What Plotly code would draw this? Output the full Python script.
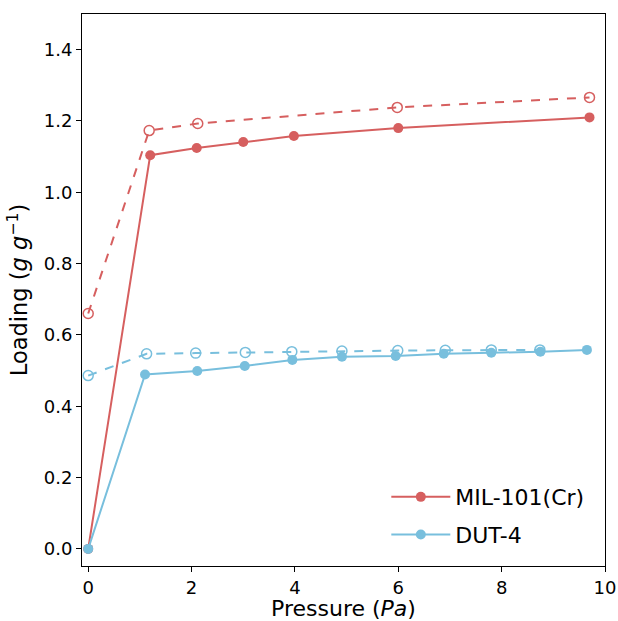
import plotly.graph_objects as go

# MIL-101(Cr)
mil_ads_x = [0.0, 1.2, 2.1, 3.0, 3.98, 6.0, 9.7]
mil_ads_y = [0.0, 1.104, 1.124, 1.141, 1.158, 1.180, 1.210]
mil_des_x = [0.0, 1.18, 2.12, 5.98, 9.7]
mil_des_y = [0.66, 1.173, 1.193, 1.238, 1.266]

# DUT-4
dut_ads_x = [0.0, 1.1, 2.11, 3.03, 3.95, 4.91, 5.95, 6.88, 7.8, 8.75, 9.65]
dut_ads_y = [0.0, 0.489, 0.499, 0.513, 0.530, 0.539, 0.541, 0.547, 0.550, 0.553, 0.558]
dut_des_x = [0.0, 1.13, 2.08, 3.04, 3.94, 4.91, 5.99, 6.91, 7.8, 8.74]
dut_des_y = [0.486, 0.547, 0.549, 0.551, 0.553, 0.555, 0.556, 0.557, 0.558, 0.558]

x_ticks = [0, 2, 4, 6, 8, 10]
y_ticks = [0.0, 0.2, 0.4, 0.6, 0.8, 1.0, 1.2, 1.4]

RED = "#d65f5f"
BLUE = "#78bfdd"

fig = go.Figure()
fig.add_trace(go.Scatter(x=mil_des_x, y=mil_des_y, mode="lines+markers",
                         line=dict(color=RED, width=2, dash="dash"),
                         marker=dict(symbol="circle-open", size=10, color=RED, line=dict(width=1.5)),
                         showlegend=False))
fig.add_trace(go.Scatter(x=dut_des_x, y=dut_des_y, mode="lines+markers",
                         line=dict(color=BLUE, width=2, dash="dash"),
                         marker=dict(symbol="circle-open", size=10, color=BLUE, line=dict(width=1.5)),
                         showlegend=False))
fig.add_trace(go.Scatter(x=mil_ads_x, y=mil_ads_y, mode="lines+markers", name="MIL-101(Cr)",
                         legendgroup="a",
                         line=dict(color=RED, width=2),
                         marker=dict(symbol="circle", size=10, color=RED)))
fig.add_trace(go.Scatter(x=dut_ads_x, y=dut_ads_y, mode="lines+markers", name="DUT-4",
                         legendgroup="b",
                         line=dict(color=BLUE, width=2),
                         marker=dict(symbol="circle", size=10, color=BLUE)))

axis_common = dict(showline=True, linecolor="black", linewidth=1, mirror=True,
                   ticks="outside", ticklen=5, tickcolor="black", showgrid=False,
                   zeroline=False, automargin=False,
                   tickfont=dict(size=18, color="black"))

fig.update_layout(
    width=618, height=621,
    margin=dict(l=82, r=13, t=14, b=55),
    paper_bgcolor="white", plot_bgcolor="white",
    font=dict(family="DejaVu Sans", color="black"),
    xaxis=dict(range=[-0.12, 10], tickvals=x_ticks,
               title=dict(text="Pressure (<i>Pa</i>)", font=dict(size=22), standoff=4),
               **axis_common),
    yaxis=dict(range=[-0.048, 1.5], tickvals=y_ticks, tickformat=".1f",
               title=dict(text="Loading (<i>g g</i><sup>−1</sup>)", font=dict(size=22.5), standoff=9),
               **axis_common),
    legend=dict(x=0.97, y=0.018, xanchor="right", yanchor="bottom",
                font=dict(size=22), bgcolor="rgba(0,0,0,0)", itemwidth=59,
                traceorder="grouped", tracegroupgap=6),
)

fig.write_html("out.html")
